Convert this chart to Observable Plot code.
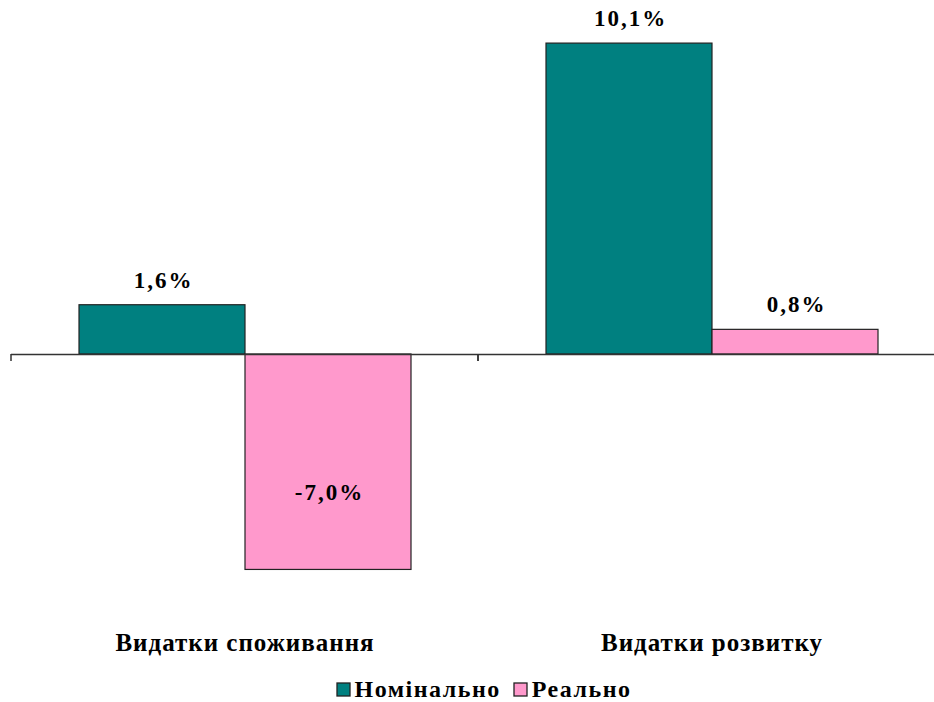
<!DOCTYPE html>
<html>
<head>
<meta charset="utf-8">
<script src="https://cdn.jsdelivr.net/npm/d3@7"></script>
<script src="https://cdn.jsdelivr.net/npm/@observablehq/plot@0.6"></script>
<style>
  html, body { margin: 0; padding: 0; background: #fff; overflow: hidden; }
  #wrap { width: 934px; overflow: hidden; }
  #wrap g[aria-label="text"] text { letter-spacing: 2px; }
  #wrap g[aria-label^="fx-axis"] text { letter-spacing: 1px; }
  #legend { width: 934px; display: flex; justify-content: center; padding-left: 47px; box-sizing: border-box; margin-top: 2px; }
  #legend span { margin-right: 13px; letter-spacing: 1.5px; }
  #legend span > svg { margin-right: 5px; }
  #legend svg rect { stroke: #222; stroke-width: 1.3px; }
</style>
</head>
<body>
<div id="wrap"></div>
<div id="legend"></div>
<script>
// Expenditure growth, nominal vs real, percent
const categories = ["Видатки споживання", "Видатки розвитку"];
const series = ["Номінально", "Реально"];
const nominal = [1.6, 10.1];
const real = [-7.0, 0.8];
const colors = ["#008080", "#FF99CC"];

const rows = categories.flatMap((c, i) => [
  {category: c, series: series[0], value: nominal[i]},
  {category: c, series: series[1], value: real[i]}
]);

// "1,6%" style labels with a plain hyphen for negatives
const fmt = v => d3.format(".1f")(v).replace("−", "-").replace(".", ",") + "%";

const serif = "'Liberation Serif', 'Times New Roman', serif";

const chart = Plot.plot({
  width: 945,
  height: 671,
  marginLeft: 11,
  marginRight: 0,
  marginTop: 0,
  marginBottom: 40,
  style: {fontFamily: serif, fontSize: "25px", fontWeight: "bold", color: "#000", background: "#fff", maxWidth: "none"},
  fx: {domain: categories, padding: 0, axis: "bottom", label: null, tickSize: 0, tickPadding: 2},
  x: {domain: series, paddingInner: 0, paddingOuter: 0.4, axis: null},
  y: {domain: [-9, 11.5], axis: null},
  color: {domain: series, range: colors},
  marks: [
    Plot.barY(rows, {fx: "category", x: "series", y: "value", fill: "series", stroke: "#222", strokeWidth: 1.2}),
    Plot.ruleY([0], {stroke: "#333", strokeWidth: 1.5}),
    // category separator ticks hanging below the zero line
    (index, scales, values, dims) => {
      const g = d3.create("svg:g").attr("stroke", "#333").attr("stroke-width", 1.5);
      const y0 = scales.y(0);
      for (const x of [dims.marginLeft, dims.width - dims.marginRight]) {
        g.append("line").attr("x1", x).attr("x2", x).attr("y1", y0).attr("y2", y0 + 7);
      }
      return g.node();
    },
    Plot.text(rows.filter(d => d.value >= 0), {fx: "category", x: "series", y: "value", text: d => fmt(d.value), dy: -25, dx: 1, fill: "#000", fontSize: 23}),
    Plot.text(rows.filter(d => d.value < 0), {fx: "category", x: "series", y: "value", text: d => fmt(d.value), dy: -77, dx: 1, fill: "#000", fontSize: 23})
  ]
});
document.getElementById("wrap").appendChild(chart);

const legend = Plot.legend({
  color: {domain: series, range: colors},
  swatchSize: 13,
  className: "lg",
  style: {fontFamily: serif, fontSize: "24px", fontWeight: "bold", color: "#000", margin: "0"}
});
document.getElementById("legend").appendChild(legend);
</script>
</body>
</html>
